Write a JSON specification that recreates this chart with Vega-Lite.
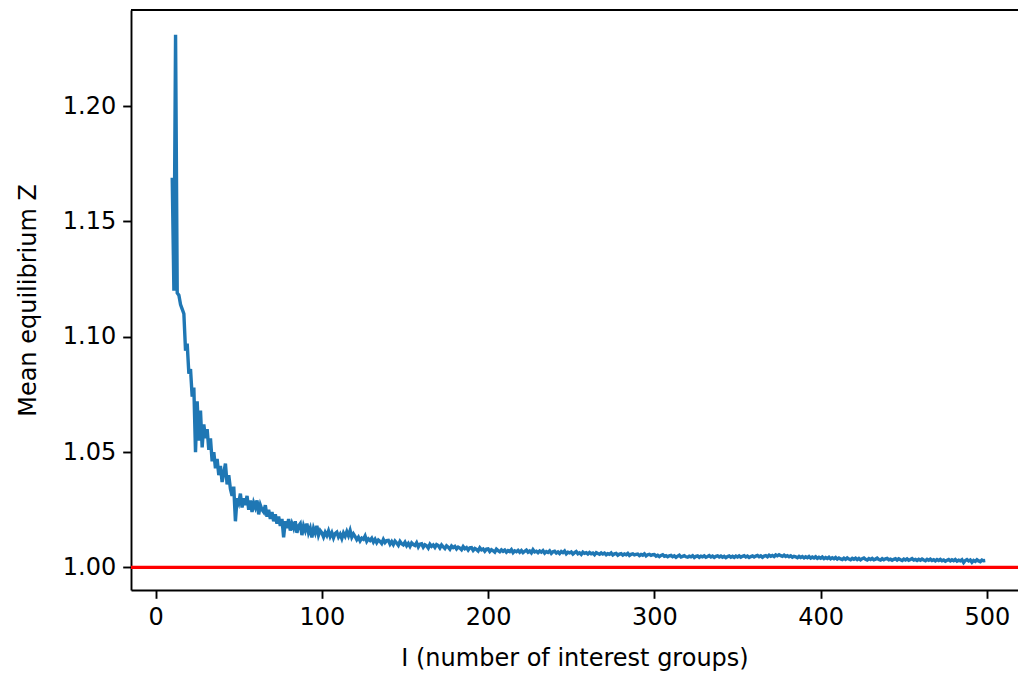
{
"$schema": "https://vega.github.io/schema/vega-lite/v6.json",
"width": 887, "height": 580,
"autosize": {"type": "none"},
"padding": {"left": 131, "top": 10, "right": 0, "bottom": 85},
"background": "white",
"config": {"view": {"stroke": null}, "font": "DejaVu Sans"},
"layer": [
{"data": {"values": [
{"I":10,"Z":1.169},{"I":11,"Z":1.120},{"I":12,"Z":1.231},{"I":13,"Z":1.119},{"I":14,"Z":1.118},{"I":15,"Z":1.114},{"I":16,"Z":1.112},{"I":17,"Z":1.110},{"I":18,"Z":1.094},{"I":19,"Z":1.097},
{"I":20,"Z":1.084},{"I":21,"Z":1.086},{"I":22,"Z":1.074},{"I":23,"Z":1.078},{"I":24,"Z":1.050},{"I":25,"Z":1.072},{"I":26,"Z":1.055},{"I":27,"Z":1.068},{"I":28,"Z":1.052},{"I":29,"Z":1.062},
{"I":30,"Z":1.056},{"I":31,"Z":1.060},{"I":32,"Z":1.051},{"I":33,"Z":1.056},{"I":34,"Z":1.046},{"I":35,"Z":1.050},{"I":36,"Z":1.043},{"I":37,"Z":1.047},{"I":38,"Z":1.040},{"I":39,"Z":1.044},
{"I":40,"Z":1.037},{"I":41,"Z":1.041},{"I":42,"Z":1.045},{"I":43,"Z":1.036},{"I":44,"Z":1.040},{"I":45,"Z":1.034},{"I":46,"Z":1.031},{"I":47,"Z":1.035},{"I":48,"Z":1.020},{"I":49,"Z":1.030},
{"I":50,"Z":1.028},{"I":51,"Z":1.032},{"I":52,"Z":1.026},{"I":53,"Z":1.030},{"I":54,"Z":1.027},{"I":55,"Z":1.031},{"I":56,"Z":1.025},{"I":57,"Z":1.029},{"I":58,"Z":1.024},{"I":59,"Z":1.028},
{"I":60,"Z":1.026},{"I":61,"Z":1.029},{"I":62,"Z":1.023},{"I":63,"Z":1.027},{"I":64,"Z":1.025},{"I":65,"Z":1.024},{"I":66,"Z":1.027},{"I":67,"Z":1.022},{"I":68,"Z":1.025},{"I":69,"Z":1.021},
{"I":70,"Z":1.024},{"I":71,"Z":1.020},{"I":72,"Z":1.023},{"I":73,"Z":1.019},{"I":74,"Z":1.022},{"I":75,"Z":1.018},{"I":76,"Z":1.021},{"I":77,"Z":1.013},{"I":78,"Z":1.020},{"I":79,"Z":1.017},
{"I":80,"Z":1.021},{"I":81,"Z":1.016},{"I":82,"Z":1.019},{"I":83,"Z":1.017},{"I":84,"Z":1.020},{"I":85,"Z":1.015},{"I":86,"Z":1.018},{"I":87,"Z":1.019},{"I":88,"Z":1.014},{"I":89,"Z":1.018},
{"I":90,"Z":1.016},{"I":91,"Z":1.019},{"I":92,"Z":1.015},{"I":93,"Z":1.017},{"I":94,"Z":1.013},{"I":95,"Z":1.017},{"I":96,"Z":1.015},{"I":97,"Z":1.018},{"I":98,"Z":1.014},{"I":99,"Z":1.016},
{"I":100,"Z":1.015},{"I":101,"Z":1.0132},{"I":102,"Z":1.0152},{"I":103,"Z":1.0138},{"I":104,"Z":1.0158},{"I":105,"Z":1.0134},{"I":106,"Z":1.0150},{"I":107,"Z":1.0128},{"I":108,"Z":1.0147},{"I":109,"Z":1.0153},
{"I":110,"Z":1.0132},{"I":111,"Z":1.0144},{"I":112,"Z":1.0125},{"I":113,"Z":1.0149},{"I":114,"Z":1.0135},{"I":115,"Z":1.0155},{"I":116,"Z":1.0137},{"I":117,"Z":1.0160},{"I":118,"Z":1.0131},{"I":119,"Z":1.0145},
{"I":120,"Z":1.0134},{"I":121,"Z":1.0120},{"I":122,"Z":1.0131},{"I":123,"Z":1.0115},{"I":124,"Z":1.0127},{"I":125,"Z":1.0122},{"I":126,"Z":1.0136},{"I":127,"Z":1.0113},{"I":128,"Z":1.0124},{"I":129,"Z":1.0117},
{"I":130,"Z":1.0126},{"I":131,"Z":1.0110},{"I":132,"Z":1.0122},{"I":133,"Z":1.0107},{"I":134,"Z":1.0119},{"I":135,"Z":1.0113},{"I":136,"Z":1.0104},{"I":137,"Z":1.0121},{"I":138,"Z":1.0108},{"I":139,"Z":1.0116},
{"I":140,"Z":1.0117},{"I":141,"Z":1.0101},{"I":142,"Z":1.0112},{"I":143,"Z":1.0099},{"I":144,"Z":1.0114},{"I":145,"Z":1.0106},{"I":146,"Z":1.0096},{"I":147,"Z":1.0113},{"I":148,"Z":1.0103},{"I":149,"Z":1.0098},
{"I":150,"Z":1.0109},{"I":151,"Z":1.0094},{"I":152,"Z":1.0104},{"I":153,"Z":1.0091},{"I":154,"Z":1.0106},{"I":155,"Z":1.0099},{"I":156,"Z":1.0095},{"I":157,"Z":1.0107},{"I":158,"Z":1.0089},{"I":159,"Z":1.0101},
{"I":160,"Z":1.0103},{"I":161,"Z":1.0088},{"I":162,"Z":1.0098},{"I":163,"Z":1.0094},{"I":164,"Z":1.0084},{"I":165,"Z":1.0100},{"I":166,"Z":1.0091},{"I":167,"Z":1.0097},{"I":168,"Z":1.0087},{"I":169,"Z":1.0099},
{"I":170,"Z":1.0095},{"I":171,"Z":1.0084},{"I":172,"Z":1.0097},{"I":173,"Z":1.0089},{"I":174,"Z":1.0082},{"I":175,"Z":1.0094},{"I":176,"Z":1.0088},{"I":177,"Z":1.0079},{"I":178,"Z":1.0093},{"I":179,"Z":1.0086},
{"I":180,"Z":1.0091},{"I":181,"Z":1.0080},{"I":182,"Z":1.0088},{"I":183,"Z":1.0084},{"I":184,"Z":1.0077},{"I":185,"Z":1.0090},{"I":186,"Z":1.0081},{"I":187,"Z":1.0086},{"I":188,"Z":1.0075},{"I":189,"Z":1.0085},
{"I":190,"Z":1.0086},{"I":191,"Z":1.0074},{"I":192,"Z":1.0082},{"I":193,"Z":1.0078},{"I":194,"Z":1.0071},{"I":195,"Z":1.0085},{"I":196,"Z":1.0076},{"I":197,"Z":1.0080},{"I":198,"Z":1.0070},{"I":199,"Z":1.0079},
{"I":200,"Z":1.0080},{"I":201,"Z":1.0069},{"I":202,"Z":1.0077},{"I":203,"Z":1.0072},{"I":204,"Z":1.0066},{"I":205,"Z":1.0079},{"I":206,"Z":1.0073},{"I":207,"Z":1.0068},{"I":208,"Z":1.0076},{"I":209,"Z":1.0070},
{"I":210,"Z":1.0075},{"I":211,"Z":1.0066},{"I":212,"Z":1.0073},{"I":213,"Z":1.0069},{"I":214,"Z":1.0077},{"I":215,"Z":1.0064},{"I":216,"Z":1.0072},{"I":217,"Z":1.0068},{"I":218,"Z":1.0074},{"I":219,"Z":1.0066},
{"I":220,"Z":1.0073},{"I":221,"Z":1.0064},{"I":222,"Z":1.0070},{"I":223,"Z":1.0075},{"I":224,"Z":1.0066},{"I":225,"Z":1.0071},{"I":226,"Z":1.0063},{"I":227,"Z":1.0077},{"I":228,"Z":1.0067},{"I":229,"Z":1.0070},
{"I":230,"Z":1.0064},{"I":231,"Z":1.0071},{"I":232,"Z":1.0066},{"I":233,"Z":1.0073},{"I":234,"Z":1.0062},{"I":235,"Z":1.0069},{"I":236,"Z":1.0065},{"I":237,"Z":1.0072},{"I":238,"Z":1.0061},{"I":239,"Z":1.0068},
{"I":240,"Z":1.0070},{"I":241,"Z":1.0062},{"I":242,"Z":1.0067},{"I":243,"Z":1.0060},{"I":244,"Z":1.0069},{"I":245,"Z":1.0064},{"I":246,"Z":1.0071},{"I":247,"Z":1.0059},{"I":248,"Z":1.0066},{"I":249,"Z":1.0063},
{"I":250,"Z":1.0067},{"I":251,"Z":1.0058},{"I":252,"Z":1.0064},{"I":253,"Z":1.0069},{"I":254,"Z":1.0059},{"I":255,"Z":1.0063},{"I":256,"Z":1.0056},{"I":257,"Z":1.0066},{"I":258,"Z":1.0061},{"I":259,"Z":1.0064},
{"I":260,"Z":1.0058},{"I":261,"Z":1.0065},{"I":262,"Z":1.0059},{"I":263,"Z":1.0062},{"I":264,"Z":1.0055},{"I":265,"Z":1.0064},{"I":266,"Z":1.0060},{"I":267,"Z":1.0057},{"I":268,"Z":1.0063},{"I":269,"Z":1.0058},
{"I":270,"Z":1.0062},{"I":271,"Z":1.0055},{"I":272,"Z":1.0060},{"I":273,"Z":1.0057},{"I":274,"Z":1.0063},{"I":275,"Z":1.0054},{"I":276,"Z":1.0059},{"I":277,"Z":1.0061},{"I":278,"Z":1.0053},{"I":279,"Z":1.0058},
{"I":280,"Z":1.0060},{"I":281,"Z":1.0053},{"I":282,"Z":1.0058},{"I":283,"Z":1.0055},{"I":284,"Z":1.0061},{"I":285,"Z":1.0052},{"I":286,"Z":1.0057},{"I":287,"Z":1.0059},{"I":288,"Z":1.0054},{"I":289,"Z":1.0056},
{"I":290,"Z":1.0058},{"I":291,"Z":1.0051},{"I":292,"Z":1.0056},{"I":293,"Z":1.0053},{"I":294,"Z":1.0059},{"I":295,"Z":1.0050},{"I":296,"Z":1.0055},{"I":297,"Z":1.0057},{"I":298,"Z":1.0052},{"I":299,"Z":1.0055},
{"I":300,"Z":1.0056},{"I":301,"Z":1.0049},{"I":302,"Z":1.0053},{"I":303,"Z":1.0047},{"I":304,"Z":1.0052},{"I":305,"Z":1.0055},{"I":306,"Z":1.0048},{"I":307,"Z":1.0051},{"I":308,"Z":1.0046},{"I":309,"Z":1.0050},
{"I":310,"Z":1.0052},{"I":311,"Z":1.0046},{"I":312,"Z":1.0050},{"I":313,"Z":1.0044},{"I":314,"Z":1.0049},{"I":315,"Z":1.0053},{"I":316,"Z":1.0045},{"I":317,"Z":1.0048},{"I":318,"Z":1.0051},{"I":319,"Z":1.0046},
{"I":320,"Z":1.0044},{"I":321,"Z":1.0049},{"I":322,"Z":1.0046},{"I":323,"Z":1.0051},{"I":324,"Z":1.0043},{"I":325,"Z":1.0048},{"I":326,"Z":1.0050},{"I":327,"Z":1.0044},{"I":328,"Z":1.0049},{"I":329,"Z":1.0046},
{"I":330,"Z":1.0050},{"I":331,"Z":1.0044},{"I":332,"Z":1.0047},{"I":333,"Z":1.0051},{"I":334,"Z":1.0045},{"I":335,"Z":1.0049},{"I":336,"Z":1.0043},{"I":337,"Z":1.0048},{"I":338,"Z":1.0050},{"I":339,"Z":1.0045},
{"I":340,"Z":1.0049},{"I":341,"Z":1.0044},{"I":342,"Z":1.0048},{"I":343,"Z":1.0042},{"I":344,"Z":1.0047},{"I":345,"Z":1.0050},{"I":346,"Z":1.0044},{"I":347,"Z":1.0048},{"I":348,"Z":1.0043},{"I":349,"Z":1.0049},
{"I":350,"Z":1.0045},{"I":351,"Z":1.0050},{"I":352,"Z":1.0044},{"I":353,"Z":1.0048},{"I":354,"Z":1.0051},{"I":355,"Z":1.0045},{"I":356,"Z":1.0049},{"I":357,"Z":1.0043},{"I":358,"Z":1.0047},{"I":359,"Z":1.0050},
{"I":360,"Z":1.0045},{"I":361,"Z":1.0049},{"I":362,"Z":1.0052},{"I":363,"Z":1.0046},{"I":364,"Z":1.0050},{"I":365,"Z":1.0044},{"I":366,"Z":1.0049},{"I":367,"Z":1.0051},{"I":368,"Z":1.0046},{"I":369,"Z":1.0053},
{"I":370,"Z":1.0048},{"I":371,"Z":1.0052},{"I":372,"Z":1.0047},{"I":373,"Z":1.0054},{"I":374,"Z":1.0050},{"I":375,"Z":1.0055},{"I":376,"Z":1.0051},{"I":377,"Z":1.0048},{"I":378,"Z":1.0053},{"I":379,"Z":1.0047},
{"I":380,"Z":1.0051},{"I":381,"Z":1.0046},{"I":382,"Z":1.0050},{"I":383,"Z":1.0044},{"I":384,"Z":1.0048},{"I":385,"Z":1.0046},{"I":386,"Z":1.0042},{"I":387,"Z":1.0048},{"I":388,"Z":1.0043},{"I":389,"Z":1.0047},
{"I":390,"Z":1.0041},{"I":391,"Z":1.0046},{"I":392,"Z":1.0042},{"I":393,"Z":1.0047},{"I":394,"Z":1.0040},{"I":395,"Z":1.0045},{"I":396,"Z":1.0041},{"I":397,"Z":1.0046},{"I":398,"Z":1.0039},{"I":399,"Z":1.0044},
{"I":400,"Z":1.0040},{"I":401,"Z":1.0045},{"I":402,"Z":1.0038},{"I":403,"Z":1.0043},{"I":404,"Z":1.0039},{"I":405,"Z":1.0044},{"I":406,"Z":1.0037},{"I":407,"Z":1.0042},{"I":408,"Z":1.0038},{"I":409,"Z":1.0043},
{"I":410,"Z":1.0036},{"I":411,"Z":1.0041},{"I":412,"Z":1.0037},{"I":413,"Z":1.0034},{"I":414,"Z":1.0040},{"I":415,"Z":1.0035},{"I":416,"Z":1.0041},{"I":417,"Z":1.0036},{"I":418,"Z":1.0033},{"I":419,"Z":1.0039},
{"I":420,"Z":1.0035},{"I":421,"Z":1.0040},{"I":422,"Z":1.0034},{"I":423,"Z":1.0039},{"I":424,"Z":1.0033},{"I":425,"Z":1.0038},{"I":426,"Z":1.0041},{"I":427,"Z":1.0035},{"I":428,"Z":1.0032},{"I":429,"Z":1.0038},
{"I":430,"Z":1.0034},{"I":431,"Z":1.0039},{"I":432,"Z":1.0033},{"I":433,"Z":1.0036},{"I":434,"Z":1.0040},{"I":435,"Z":1.0034},{"I":436,"Z":1.0032},{"I":437,"Z":1.0038},{"I":438,"Z":1.0033},{"I":439,"Z":1.0037},
{"I":440,"Z":1.0039},{"I":441,"Z":1.0033},{"I":442,"Z":1.0036},{"I":443,"Z":1.0031},{"I":444,"Z":1.0035},{"I":445,"Z":1.0038},{"I":446,"Z":1.0032},{"I":447,"Z":1.0037},{"I":448,"Z":1.0033},{"I":449,"Z":1.0030},
{"I":450,"Z":1.0036},{"I":451,"Z":1.0032},{"I":452,"Z":1.0037},{"I":453,"Z":1.0031},{"I":454,"Z":1.0034},{"I":455,"Z":1.0038},{"I":456,"Z":1.0032},{"I":457,"Z":1.0035},{"I":458,"Z":1.0030},{"I":459,"Z":1.0035},
{"I":460,"Z":1.0031},{"I":461,"Z":1.0036},{"I":462,"Z":1.0032},{"I":463,"Z":1.0029},{"I":464,"Z":1.0035},{"I":465,"Z":1.0031},{"I":466,"Z":1.0036},{"I":467,"Z":1.0030},{"I":468,"Z":1.0033},{"I":469,"Z":1.0028},
{"I":470,"Z":1.0034},{"I":471,"Z":1.0030},{"I":472,"Z":1.0035},{"I":473,"Z":1.0029},{"I":474,"Z":1.0032},{"I":475,"Z":1.0027},{"I":476,"Z":1.0031},{"I":477,"Z":1.0034},{"I":478,"Z":1.0028},{"I":479,"Z":1.0033},
{"I":480,"Z":1.0029},{"I":481,"Z":1.0034},{"I":482,"Z":1.0027},{"I":483,"Z":1.0031},{"I":484,"Z":1.0028},{"I":485,"Z":1.0033},{"I":486,"Z":1.0021},{"I":487,"Z":1.0030},{"I":488,"Z":1.0034},{"I":489,"Z":1.0028},
{"I":490,"Z":1.0032},{"I":491,"Z":1.0022},{"I":492,"Z":1.0030},{"I":493,"Z":1.0026},{"I":494,"Z":1.0033},{"I":495,"Z":1.0028},{"I":496,"Z":1.0025},{"I":497,"Z":1.0032},{"I":498,"Z":1.0029},{"I":499,"Z":1.0030}
]},
"mark": {"type": "line", "color": "#1f77b4", "strokeWidth": 3.4, "clip": true},
"encoding": {
"x": {"field": "I", "type": "quantitative",
 "scale": {"domain": [-14.8, 518.7], "nice": false, "zero": false},
 "axis": {"values": [0,100,200,300,400,500], "title": "I (number of interest groups)", "grid": false,
  "domainColor": "black", "domainWidth": 1.9, "tickColor": "black", "tickWidth": 1.9, "tickSize": 8.3,
  "labelPadding": 7, "labelFontSize": 24, "labelColor": "black", "labelFont": "DejaVu Sans", "labelFlush": false,
  "titleFontSize": 24, "titleFontWeight": "normal", "titleColor": "black", "titleFont": "DejaVu Sans", "titlePadding": 17}},
"y": {"field": "Z", "type": "quantitative",
 "scale": {"domain": [0.9902, 1.2417], "nice": false, "zero": false},
 "axis": {"values": [1.0,1.05,1.1,1.15,1.2], "format": ".2f", "title": "Mean equilibrium Z", "grid": false,
  "domainColor": "black", "domainWidth": 1.9, "tickColor": "black", "tickWidth": 1.9, "tickSize": 8.3,
  "labelPadding": 7, "labelFontSize": 24, "labelColor": "black", "labelFont": "DejaVu Sans", "labelFlush": false,
  "titleFontSize": 24, "titleFontWeight": "normal", "titleColor": "black", "titleFont": "DejaVu Sans", "titlePadding": 22}}
}},
{"data": {"values": [{"level": 1}]},
 "mark": {"type": "rule", "color": "#ff0000", "strokeWidth": 3.4},
 "encoding": {"y": {"field": "level", "type": "quantitative"}}},
{"data": {"values": [{"top": 1.2417}]},
 "mark": {"type": "rule", "color": "black", "strokeWidth": 1.9},
 "encoding": {"y": {"field": "top", "type": "quantitative"}}}
]
}
